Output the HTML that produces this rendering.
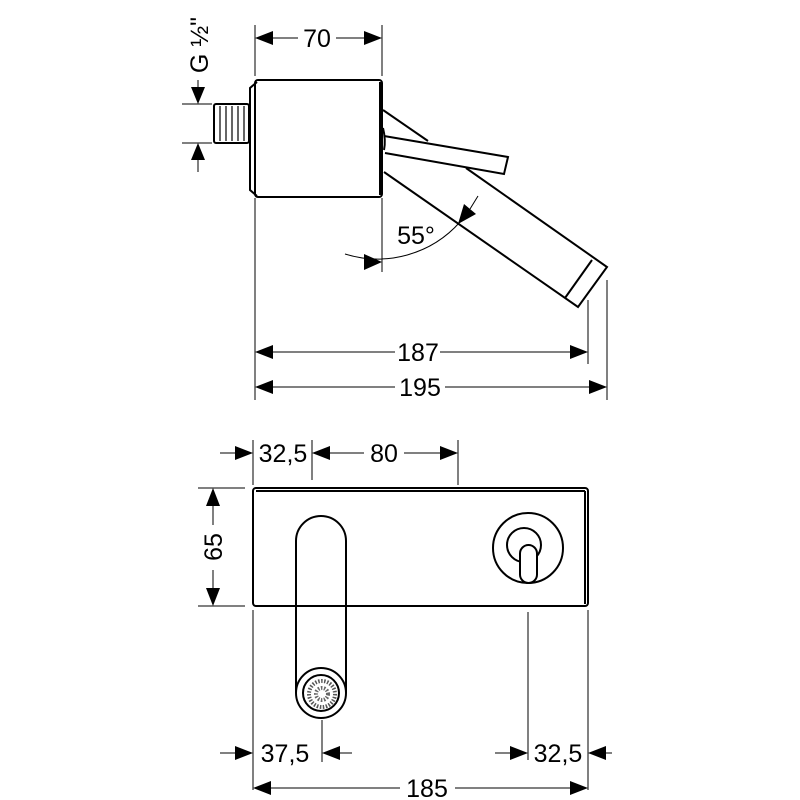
<!DOCTYPE html>
<html><head><style>html,body{margin:0;padding:0;background:#fff}svg{display:block}</style></head><body>
<svg width="800" height="800" viewBox="0 0 800 800" xmlns="http://www.w3.org/2000/svg" font-family="Liberation Sans, sans-serif" font-size="25" fill="#000">
<g stroke="#000" fill="none">
<g stroke-width="1">
<line x1="255" y1="25" x2="255" y2="76"/><line x1="382" y1="25" x2="382" y2="76"/>
<line x1="255" y1="198" x2="255" y2="400"/><line x1="382" y1="198" x2="382" y2="272"/>
<line x1="588" y1="300" x2="588" y2="364"/><line x1="607" y1="280" x2="607" y2="400"/>
<line x1="182" y1="104" x2="212" y2="104"/><line x1="182" y1="143" x2="212" y2="143"/>
<line x1="198" y1="80" x2="198" y2="88"/><line x1="198" y1="160" x2="198" y2="172"/>
<line x1="273" y1="38" x2="298" y2="38"/><line x1="336" y1="38" x2="364" y2="38"/>
<line x1="273" y1="352" x2="395" y2="352"/><line x1="440" y1="352" x2="570" y2="352"/>
<line x1="273" y1="387" x2="395" y2="387"/><line x1="445" y1="387" x2="589" y2="387"/>
<path d="M345 254 A110 110 0 0 0 460 222"/>
<line x1="470" y1="209" x2="478" y2="196"/>
</g>
<g stroke-width="2">
<rect x="255" y="80" width="127" height="117" rx="3"/>
<path d="M257 82 L250 88 L250 190 L257 196"/>
<line x1="380" y1="82" x2="380" y2="195"/>
<rect x="214" y="104" width="35" height="39" rx="2"/>
<path d="M383 110 L428 141 M466 168 L607 267 L578 307 L384 172"/>
<line x1="592" y1="260" x2="565" y2="298"/>
<path d="M384 136 L508 157 L504 174 L385 153"/>
<path d="M383 128 Q386 140 384 150"/>
</g>
<g stroke-width="1.2">
<line x1="220" y1="106" x2="220" y2="141"/><line x1="226" y1="106" x2="226" y2="141"/><line x1="232" y1="106" x2="232" y2="141"/><line x1="238" y1="106" x2="238" y2="141"/><line x1="244" y1="106" x2="244" y2="141"/>
</g>
<g stroke-width="1">
<line x1="253" y1="440" x2="253" y2="485"/><line x1="312" y1="440" x2="312" y2="480"/><line x1="458" y1="440" x2="458" y2="485"/>
<line x1="220" y1="453" x2="240" y2="453"/><line x1="330" y1="453" x2="364" y2="453"/><line x1="404" y1="453" x2="440" y2="453"/>
<line x1="198" y1="488" x2="245" y2="488"/><line x1="198" y1="606" x2="245" y2="606"/>
<line x1="213" y1="505" x2="213" y2="525"/><line x1="213" y1="570" x2="213" y2="590"/>
<line x1="253" y1="610" x2="253" y2="790"/><line x1="588" y1="610" x2="588" y2="790"/>
<line x1="528" y1="612" x2="528" y2="760"/><line x1="322" y1="720" x2="322" y2="762"/>
<line x1="220" y1="753" x2="240" y2="753"/><line x1="340" y1="753" x2="352" y2="753"/>
<line x1="495" y1="753" x2="512" y2="753"/><line x1="600" y1="753" x2="612" y2="753"/>
<line x1="270" y1="788" x2="400" y2="788"/><line x1="455" y1="788" x2="572" y2="788"/>
</g>
<g stroke-width="2">
<rect x="253" y="488" width="335" height="118" rx="3"/>
<line x1="256" y1="491" x2="585" y2="491"/><line x1="585" y1="491" x2="585" y2="604"/>
<path d="M296 693 L296 541 A25 25 0 0 1 346 541 L346 693"/>
<circle cx="321" cy="693" r="25" fill="#fff"/>
<circle cx="321" cy="693" r="18"/>
<circle cx="528" cy="548" r="35"/>
<circle cx="524" cy="545" r="17"/>
<rect x="520" y="545" width="17" height="38" rx="8.5" fill="#fff"/>
</g>
<circle cx="322" cy="694" r="13" stroke-width="4" stroke="#555" stroke-dasharray="1.5 1.5"/>
<circle cx="322" cy="694" r="6" stroke-width="4" stroke="#666" stroke-dasharray="1.5 1.5"/>
</g>
<g fill="#000">
<polygon points="255,38 273,31 273,45"/><polygon points="382,38 364,31 364,45"/>
<polygon points="198,104 191,87 205,87"/><polygon points="198,143 191,160 205,160"/>
<polygon points="382,262 364,254 364,270"/>
<polygon points="458,224 476,214 464,204"/>
<polygon points="255,352 273,345 273,359"/><polygon points="588,352 570,345 570,359"/>
<polygon points="255,387 273,380 273,394"/><polygon points="607,387 589,380 589,394"/>
<polygon points="253,453 235,446 235,460"/><polygon points="312,453 330,446 330,460"/><polygon points="458,453 440,446 440,460"/>
<polygon points="213,488 206,506 220,506"/><polygon points="213,606 206,588 220,588"/>
<polygon points="253,753 235,746 235,760"/><polygon points="322,753 340,746 340,760"/>
<polygon points="528,753 510,746 510,760"/><polygon points="588,753 606,746 606,760"/>
<polygon points="253,788 271,781 271,795"/><polygon points="588,788 570,781 570,795"/>
</g>
<g text-anchor="middle">
<text x="317" y="47">70</text>
<text x="418" y="361">187</text>
<text x="420" y="396">195</text>
<text x="416" y="244">55°</text>
<text x="283" y="462">32,5</text>
<text x="384" y="462">80</text>
<text x="285" y="762">37,5</text>
<text x="558" y="762">32,5</text>
<text x="427" y="797">185</text>
<text transform="translate(222,547) rotate(-90)">65</text>
<text transform="translate(208,45) rotate(-90)">G ½"</text>
</g>
</svg>
</body></html>
